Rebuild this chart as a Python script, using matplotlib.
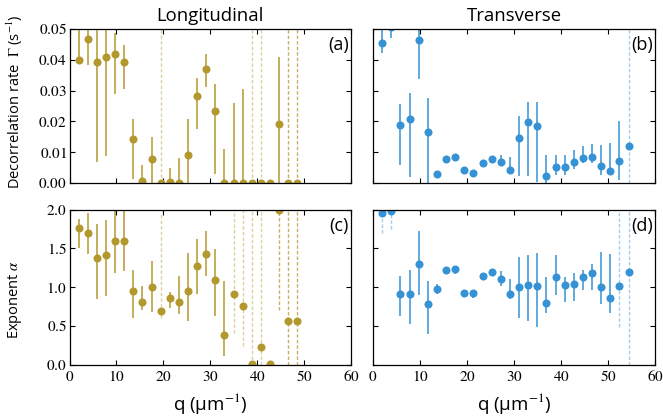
import numpy as np
import matplotlib
matplotlib.use('Agg')
import matplotlib.pyplot as plt

plt.rcParams['font.family'] = ['Open Sans', 'DejaVu Sans']
plt.rcParams['mathtext.fontset'] = 'stix'

GOLD = '#B3982E'
BLUE = '#3592D4'

# wave numbers q (um^-1)
q = np.array([1.94, 3.88, 5.83, 7.77, 9.71, 11.65, 13.59, 15.54, 17.48, 19.42,
              21.36, 23.30, 25.25, 27.19, 29.13, 31.07, 33.01, 34.96, 36.90, 38.84,
              40.78, 42.72, 44.67, 46.61, 48.55, 50.49, 52.43, 54.38])

# (a) longitudinal decorrelation rate
gam_L = [0.0398, 0.0466, 0.0394, 0.0408, 0.0419, 0.0392, 0.0143, 0.0006, 0.0077, 0.0,
         0.0003, 0.0, 0.0091, 0.0282, 0.0371, 0.0234, 0.0, 0.0, 0.0, 0.0,
         0.0, 0.0, 0.0192, 0.0, 0.0]
gam_L_lo = [0.0388, 0.0382, 0.0069, 0.0088, 0.029, 0.0305, 0.0013, 0.0, 0.0, 0.0,
            0.0, 0.0, 0.0, 0.0176, 0.0313, 0.0029, 0.0, 0.0, 0.0, 0.0,
            0.0, 0.0, 0.0, 0.0, 0.0]
gam_L_hi = [0.06, 0.06, 0.06, 0.06, 0.0488, 0.0448, 0.0208, 0.0058, 0.0149, 0.06,
            0.005, 0.0082, 0.0208, 0.0341, 0.0419, 0.0321, 0.011, 0.026, 0.0304, 0.06,
            0.06, 0.0, 0.0409, 0.06, 0.06]
gam_L_dash = [0, 0, 0, 0, 0, 0, 0, 0, 0, 1, 0, 0, 0, 0, 0, 0, 0, 0, 0, 1, 1, 0, 0, 2, 2]

# (b) transverse decorrelation rate
gam_T = [0.0453, 0.0508, 0.0189, 0.0209, 0.0464, 0.0167, 0.0029, 0.0079, 0.0084, 0.0041,
         0.0034, 0.0066, 0.0077, 0.0069, 0.0043, 0.0147, 0.0197, 0.0185, 0.0024, 0.0052,
         0.0052, 0.0067, 0.0080, 0.0085, 0.0056, 0.0040, 0.0071, 0.0120]
gam_T_lo = [0.0423, 0.0472, 0.0058, 0.0021, 0.0339, 0.0, 0.0029, 0.0079, 0.0075, 0.0041,
            0.0034, 0.0066, 0.0077, 0.0055, 0.0029, 0.0024, 0.0024, 0.0004, 0.0, 0.0025,
            0.0025, 0.0045, 0.0064, 0.0066, 0.0025, 0.0025, 0.001, 0.0]
gam_T_hi = [0.06, 0.06, 0.0256, 0.0293, 0.06, 0.0277, 0.0029, 0.0079, 0.0094, 0.0041,
            0.0034, 0.0066, 0.0077, 0.0092, 0.0085, 0.0218, 0.0264, 0.0264, 0.0091, 0.0091,
            0.0091, 0.0107, 0.012, 0.0127, 0.0123, 0.013, 0.0202, 0.06]
gam_T_dash = [0] * 27 + [1]

# (c) longitudinal exponent
alp_L = [1.758, 1.697, 1.371, 1.414, 1.590, 1.590, 0.946, 0.812, 0.997, 0.692,
         0.855, 0.804, 0.954, 1.272, 1.423, 1.088, 0.387, 0.915, 0.756, 0.015,
         0.228, 0.01, 1.99, 0.559, 0.56]
alp_L_lo = [1.508, 1.423, 0.85, 0.889, 1.186, 1.212, 0.606, 0.705, 0.683, 0.598,
            0.735, 0.657, 0.563, 0.915, 1.147, 0.632, 0.116, 0.404, 0.24, 0.0,
            0.0, 0.01, 0.705, 0.0, 0.0]
alp_L_hi = [1.874, 1.951, 1.813, 1.865, 2.1, 2.1, 1.22, 1.014, 1.336, 1.96,
            0.94, 1.143, 1.44, 1.624, 1.723, 1.491, 1.079, 2.1, 2.1, 2.1,
            2.1, 0.01, 2.1, 2.1, 2.1]
alp_L_dash = [0, 0, 0, 0, 0, 0, 0, 0, 0, 1, 0, 0, 0, 0, 0, 0, 0, 1, 1, 1, 1, 0, 2, 2, 2]

# (d) transverse exponent
alp_T = [1.951, 1.985, 0.911, 0.911, 1.294, 0.778, 0.980, 1.216, 1.229, 0.920,
         0.928, 1.143, 1.195, 1.104, 0.911, 0.997, 1.023, 1.014, 0.799, 1.134,
         1.027, 1.036, 1.134, 1.182, 1.001, 0.863, 1.010, 1.195]
alp_T_lo = [1.70, 1.753, 0.632, 0.529, 0.898, 0.40, 0.915, 1.216, 1.175, 0.920,
            0.86, 1.09, 1.195, 1.019, 0.847, 0.597, 0.567, 0.49, 0.662, 0.898,
            0.812, 0.825, 0.963, 0.963, 0.786, 0.67, 0.49, 0.0]
alp_T_hi = [2.1, 2.1, 1.143, 1.22, 1.723, 1.079, 1.036, 1.216, 1.229, 0.920,
            0.928, 1.143, 1.195, 1.207, 1.104, 1.392, 1.414, 1.44, 1.13, 1.414,
            1.13, 1.178, 1.22, 1.298, 1.456, 1.430, 2.1, 2.1]
alp_T_dash = [1, 1] + [0] * 24 + [1, 1]

gam_ticks = ['0.00', '0.01', '0.02', '0.03', '0.04', '0.05']
alp_ticks = ['0.0', '0.5', '1.0', '1.5', '2.0']
q_ticks = ['0', '10', '20', '30', '40', '50', '60']


def draw_panel(ax, y, lo, hi, dash, color):
    y = np.asarray(y)
    lo = np.asarray(lo)
    hi = np.asarray(hi)
    dash = np.asarray(dash)
    x = q[:len(y)]
    s = dash == 0
    ax.errorbar(x[s], y[s], yerr=[y[s] - lo[s], hi[s] - y[s]], fmt='none',
                ecolor=color, elinewidth=1.1, capsize=0)
    for level, a in [(1, 0.45), (2, 0.75)]:
        d = dash == level
        if d.any():
            ax.vlines(x[d], lo[d], hi[d], colors=color, linestyles=(0, (2.5, 1.5)),
                      lw=1.0, alpha=a)
    ax.plot(x, y, 'o', color=color, ms=5.8, mec=color, mew=0)


def serif(labels):
    # mathtext with the stix set gives Times-like digits
    return ['$\\mathrm{%s}$' % t for t in labels]


fig = plt.figure(figsize=(6.63, 4.16), dpi=100)
W, H = 663, 416


def px_axes(x0, x1, y0, y1):
    return fig.add_axes([x0 / W, 1 - y1 / H, (x1 - x0) / W, (y1 - y0) / H])


axa = px_axes(69.5, 351, 29, 183)
axb = px_axes(373, 655, 29, 183)
axc = px_axes(69.5, 351, 209.5, 364.7)
axd = px_axes(373, 655, 209.5, 364.7)

draw_panel(axa, gam_L, gam_L_lo, gam_L_hi, gam_L_dash, GOLD)
draw_panel(axb, gam_T, gam_T_lo, gam_T_hi, gam_T_dash, BLUE)
draw_panel(axc, alp_L, alp_L_lo, alp_L_hi, alp_L_dash, GOLD)
draw_panel(axd, alp_T, alp_T_lo, alp_T_hi, alp_T_dash, BLUE)

for ax in (axa, axb):
    ax.set_ylim(0, 0.05)
    ax.set_yticks([float(t) for t in gam_ticks])
    ax.set_yticklabels(serif(gam_ticks))
for ax in (axc, axd):
    ax.set_ylim(0, 2.0)
    ax.set_yticks([float(t) for t in alp_ticks])
    ax.set_yticklabels(serif(alp_ticks))

for ax in (axa, axb, axc, axd):
    ax.set_xlim(0, 60)
    ax.set_xticks([float(t) for t in q_ticks])
    ax.set_xticklabels(serif(q_ticks))
    ax.tick_params(direction='in', top=True, right=True, length=3.5, width=0.8,
                   labelsize=11)
    ax.tick_params(axis='x', pad=4)
    ax.tick_params(axis='y', pad=2)
    for sp in ax.spines.values():
        sp.set_linewidth(0.9)

axa.tick_params(labelbottom=False)
axb.tick_params(labelbottom=False, labelleft=False)
axd.tick_params(labelleft=False)

for ax, lab in [(axa, '(a)'), (axb, '(b)'), (axc, '(c)'), (axd, '(d)')]:
    ax.text(0.992, 0.895, lab, transform=ax.transAxes, ha='right', va='center',
            fontsize=13)

fig.text(210 / W, 1 - 21 / H, 'Longitudinal', ha='center', va='baseline', fontsize=13.3)
fig.text(514 / W, 1 - 21 / H, 'Transverse', ha='center', va='baseline', fontsize=13.3)

fig.text(15 / W, 1 - 102 / H, 'Decorrelation rate  $\\Gamma$ (s$^{-1}$)', rotation=90,
         ha='center', va='center', fontsize=10.5)
fig.text(15 / W, 1 - 300 / H, 'Exponent $\\alpha$', rotation=90,
         ha='center', va='center', fontsize=10.5)

fig.text(210 / W, 1 - 403 / H, 'q (μm$^{-1}$)', ha='center', va='center', fontsize=13.5)
fig.text(514 / W, 1 - 403 / H, 'q (μm$^{-1}$)', ha='center', va='center', fontsize=13.5)

fig.savefig('out.png', dpi=100)
